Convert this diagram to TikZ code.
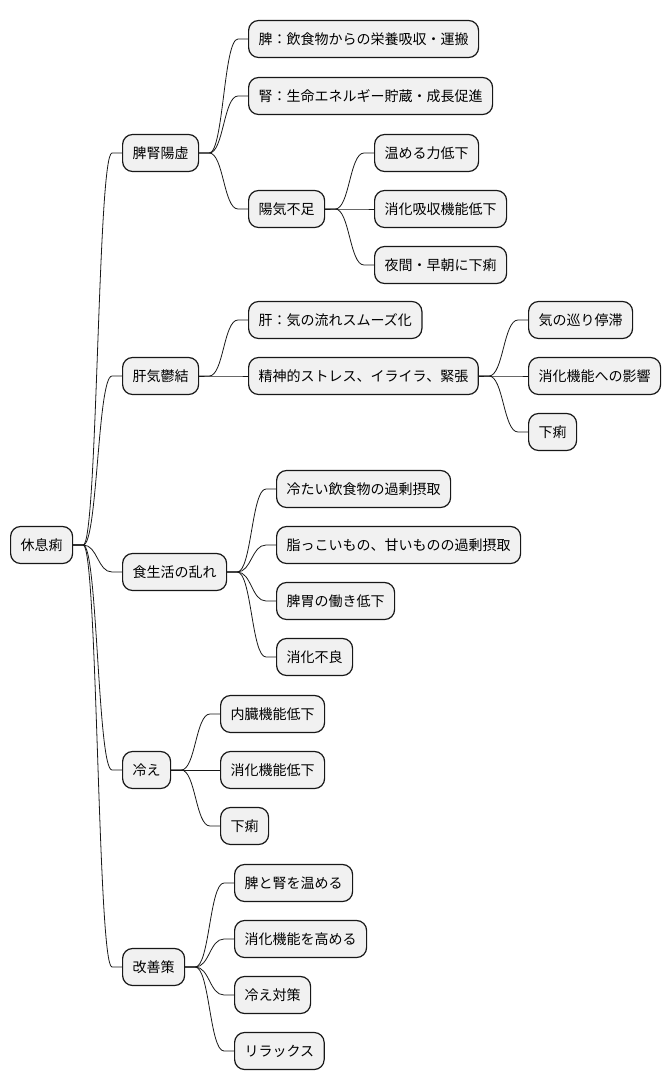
\documentclass[tikz,border=0pt]{standalone}
\usepackage{fontspec}
\newfontfamily\jpfont{Noto Sans CJK JP}
\usetikzlibrary{calc}
\definecolor{TopicFill}{RGB}{241, 241, 241}
\definecolor{TopicLine}{RGB}{24, 24, 24}

\begin{document}
\begin{tikzpicture}[x=1pt, y=-1pt,
    topic/.style={draw=TopicLine, fill=TopicFill, line width=1.2pt, rounded corners=10pt,
      minimum height=37pt, inner xsep=10pt, inner ysep=0pt, anchor=west,
      font=\jpfont\fontsize{14}{16}\selectfont},
    edge/.style={draw=TopicLine, line width=0.8pt},
    branch/.style={to path={let \p1=(\tikztostart), \p2=(\tikztotarget) in
      -- ++(10pt,0) .. controls (\x1/2+\x2/2,\y1) and (\x1/2+\x2/2,\y2) .. (\x2-10pt,\y2) -- (\p2)}}]
  \useasboundingbox (0,0) rectangle (670,1090);

  % Root
  \node[topic] (root) at (10,545) {休息痢};

  % Spleen and kidney yang deficiency
  \node[topic] (pyk) at (122,153) {脾腎陽虚};
  \node[topic] (pyk1) at (248,39) {脾：飲食物からの栄養吸収・運搬};
  \node[topic] (pyk2) at (248,96) {腎：生命エネルギー貯蔵・成長促進};
  \node[topic] (yang) at (248,209) {陽気不足};
  \node[topic] (yang1) at (374,153) {温める力低下};
  \node[topic] (yang2) at (374,209) {消化吸収機能低下};
  \node[topic] (yang3) at (374,265) {夜間・早朝に下痢};

  % Liver qi stagnation
  \node[topic] (liver) at (122,376) {肝気鬱結};
  \node[topic] (liver1) at (248,320) {肝：気の流れスムーズ化};
  \node[topic] (stress) at (248,376) {精神的ストレス、イライラ、緊張};
  \node[topic] (stress1) at (528,320) {気の巡り停滞};
  \node[topic] (stress2) at (528,376) {消化機能への影響};
  \node[topic] (stress3) at (528,432) {下痢};

  % Diet
  \node[topic] (diet) at (122,572) {食生活の乱れ};
  \node[topic] (diet1) at (276,489) {冷たい飲食物の過剰摂取};
  \node[topic] (diet2) at (276,545) {脂っこいもの、甘いものの過剰摂取};
  \node[topic] (diet3) at (276,601) {脾胃の働き低下};
  \node[topic] (diet4) at (276,657) {消化不良};

  % Cold
  \node[topic] (cold) at (122,770) {冷え};
  \node[topic] (cold1) at (220,714) {内臓機能低下};
  \node[topic] (cold2) at (220,770) {消化機能低下};
  \node[topic] (cold3) at (220,826) {下痢};

  % Remedies
  \node[topic] (care) at (122,967) {改善策};
  \node[topic] (care1) at (234,883) {脾と腎を温める};
  \node[topic] (care2) at (234,939) {消化機能を高める};
  \node[topic] (care3) at (234,995) {冷え対策};
  \node[topic] (care4) at (234,1051) {リラックス};

  % Branches
  \foreach \from/\to in {root/pyk, root/liver, root/diet, root/cold, root/care,
      pyk/pyk1, pyk/pyk2, pyk/yang, yang/yang1, yang/yang2, yang/yang3,
      liver/liver1, liver/stress, stress/stress1, stress/stress2, stress/stress3,
      diet/diet1, diet/diet2, diet/diet3, diet/diet4,
      cold/cold1, cold/cold2, cold/cold3,
      care/care1, care/care2, care/care3, care/care4}
    \draw[edge] (\from.east) to[branch] (\to.west);
\end{tikzpicture}
\end{document}
